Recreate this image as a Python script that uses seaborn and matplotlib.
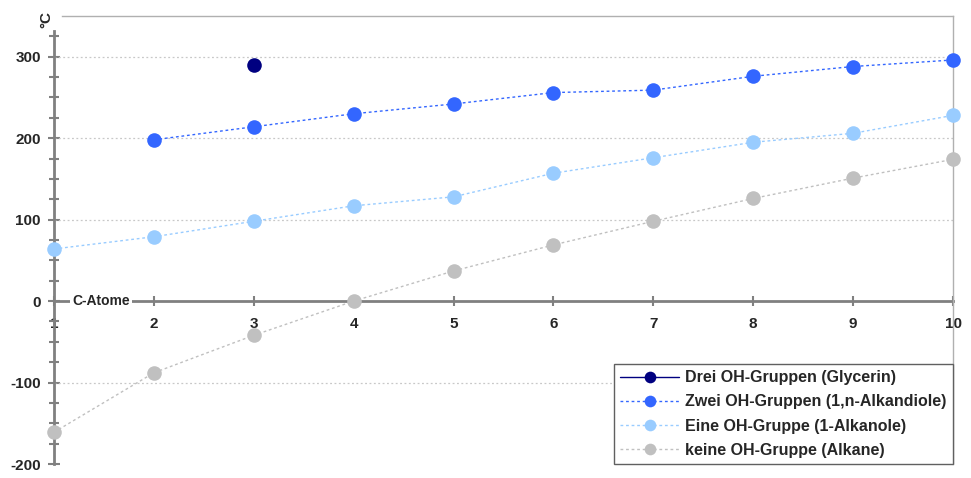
import matplotlib
matplotlib.use("Agg")
import matplotlib.pyplot as plt
import matplotlib.ticker as mticker
import numpy as np
import pandas as pd
import seaborn as sns

# Siedepunkte (°C) nach Anzahl C-Atome
c_atoms = [1, 2, 3, 4, 5, 6, 7, 8, 9, 10]
glycerin_x = [3]
glycerin = [290]
diole_x = [2, 3, 4, 5, 6, 7, 8, 9, 10]
diole = [198, 214, 230, 242, 256, 259, 276, 288, 296]
alkanole = [64, 79, 98, 117, 128, 157, 176, 195, 206, 228]
alkane = [-161, -88, -42, 0, 37, 69, 98, 126, 151, 174]

labels = ["Drei OH-Gruppen (Glycerin)",
          "Zwei OH-Gruppen (1,n-Alkandiole)",
          "Eine OH-Gruppe (1-Alkanole)",
          "keine OH-Gruppe (Alkane)"]
colors = ["#000080", "#3366ff", "#99ccff", "#c0c0c0"]

df = pd.concat([
    pd.DataFrame({"C": glycerin_x, "T": glycerin, "Reihe": labels[0]}),
    pd.DataFrame({"C": diole_x, "T": diole, "Reihe": labels[1]}),
    pd.DataFrame({"C": c_atoms, "T": alkanole, "Reihe": labels[2]}),
    pd.DataFrame({"C": c_atoms, "T": alkane, "Reihe": labels[3]}),
])

sns.set_style("white")
plt.rcParams['font.family'] = ['Liberation Sans', 'DejaVu Sans']
plt.rcParams['font.weight'] = 'bold'
plt.rcParams['axes.unicode_minus'] = False

fig = plt.figure(figsize=(9.71, 4.78), dpi=100)
ax = fig.add_axes([54 / 971, 1 - 464 / 478, (953 - 54) / 971, (464 - 16) / 478])

for i, lab in enumerate(labels):
    sub = df[df["Reihe"] == lab]
    ls = "-" if i == 0 else (0, (2, 2))
    sns.lineplot(data=sub, x="C", y="T", ax=ax, color=colors[i], linestyle=ls,
                 linewidth=1, marker="o", markersize=10.5, markeredgewidth=0,
                 label=lab, clip_on=False, zorder=3)

ax.set_xlim(1, 10)
ax.set_ylim(-200, 350)
ax.set_xticks(c_atoms)
ax.set_yticks([-200, -100, 0, 100, 200, 300])
ax.yaxis.set_minor_locator(mticker.FixedLocator(np.arange(-175, 330, 25)))
ax.set_xlabel("")
ax.set_ylabel("")

# Gitterlinien
for yv in [-100, 100, 200, 300]:
    ax.axhline(yv, color="#c8c8c8", linewidth=0.9, linestyle=(0, (1.5, 2)), zorder=1)

# Achsen
ax.spines["bottom"].set_position(("data", 0))
ax.spines["bottom"].set_color("#808080")
ax.spines["bottom"].set_linewidth(2)
ax.spines["left"].set_color("#808080")
ax.spines["left"].set_linewidth(2)
ax.spines["left"].set_bounds(-200, 332)
ax.spines["top"].set_color("#b0b0b0")
ax.spines["top"].set_linewidth(1)
ax.spines["top"].set_bounds(1.08, 10)
ax.spines["right"].set_color("#b0b0b0")
ax.spines["right"].set_linewidth(1)
ax.spines["bottom"].set_zorder(2)

ax.tick_params(axis="x", which="major", direction="inout", length=7, width=1.5,
               color="#808080", pad=8, labelsize=11, bottom=True)
ax.tick_params(axis="y", which="major", direction="inout", length=9, width=1.5,
               color="#808080", pad=5, labelsize=11, left=True)
ax.tick_params(axis="y", which="minor", direction="inout", length=7, width=1.5,
               color="#808080", left=True)
for t in ax.get_xticklabels() + ax.get_yticklabels():
    t.set_fontweight("bold")

ax.text(1.18, 0, "C-Atome", fontsize=10, fontweight="bold", ha="left", va="center",
        bbox=dict(facecolor="white", edgecolor="none", pad=1.5), zorder=4)
fig.text(46 / 971, 1 - 20 / 478, "°C", rotation=90, fontsize=11, fontweight="bold",
         ha="center", va="center")

leg = ax.legend(loc="lower right", bbox_to_anchor=(1, 0), borderaxespad=0,
                fancybox=False, framealpha=1, edgecolor="#606060",
                prop={"weight": "bold", "size": 11.5}, handlelength=3.7,
                handletextpad=0.375, labelspacing=0.57, markerscale=0.8,
                borderpad=0.4)
leg.get_frame().set_linewidth(1)
leg.set_zorder(5)

fig.savefig("out.png", dpi=100)
